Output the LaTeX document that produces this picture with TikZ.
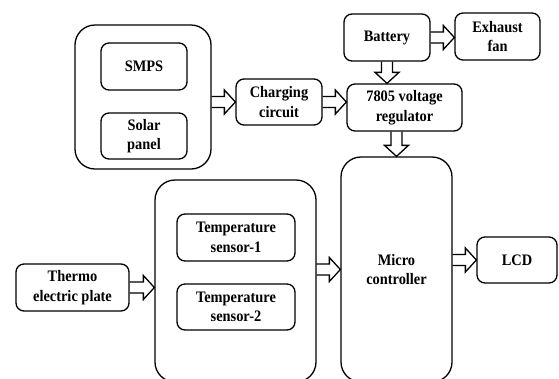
\documentclass[tikz,border=0pt]{standalone}
\usepackage{fontspec}
\setmainfont{Liberation Serif}[FakeStretch=0.9]
\usetikzlibrary{calc}

\begin{document}
\begin{tikzpicture}[x=1pt, y=-1pt,
    blk/.style={draw, line width=1.3pt, rounded corners=8pt, align=center, inner sep=1pt,
                font=\fontsize{16}{19.5}\selectfont\bfseries},
    grp/.style={draw, line width=1.3pt, rounded corners=20pt},
    fat/.style={draw, line width=1.3pt, line join=miter, to path={
        let \p1=(\tikztostart), \p2=(\tikztotarget),
            \n1={atan2(\y2-\y1,\x2-\x1)}, \n2={veclen(\x2-\x1,\y2-\y1)-11pt} in
        ($(\p1)+({\n1+90}:5.5pt)$) -- ++(\n1:\n2) -- ++({\n1+90}:6.5pt) -- (\p2)
        -- ($(\p1)+(\n1:\n2)+({\n1-90}:12pt)$) -- ++({\n1+90}:6.5pt)
        -- ($(\p1)+({\n1-90}:5.5pt)$)}}]
    \clip (0,0) rectangle (559,378);
    % Supply group (left top)
    \node[grp, minimum width=136pt, minimum height=144pt] (pwr) at (143,97) {};
    \node[blk, minimum width=86pt, minimum height=47pt] (smps) at (144,66.5) {SMPS};
    \node[blk, minimum width=86pt, minimum height=46pt] (solar) at (144,136) {Solar\\panel};
    % Charging and regulation chain
    \node[blk, minimum width=86pt, minimum height=46pt] (charge) at (279,102) {Charging\\circuit};
    \node[blk, minimum width=115pt, minimum height=47pt] (reg) at (404.5,107.5) {7805 voltage\\regulator};
    \node[blk, minimum width=86pt, minimum height=47pt] (batt) at (387,37.5) {Battery};
    \node[blk, minimum width=85pt, minimum height=47pt] (fan) at (497.5,36.5) {Exhaust\\fan};
    % Sensing group (left bottom)
    \node[grp, minimum width=161pt, minimum height=202pt] (sens) at (235.5,281) {};
    \node[blk, minimum width=118pt, minimum height=47pt] (ts1) at (236,237.5) {Temperature\\sensor-1};
    \node[blk, minimum width=118pt, minimum height=46pt] (ts2) at (236,307) {Temperature\\sensor-2};
    \node[blk, minimum width=113pt, minimum height=47pt] (thermo) at (72.5,287.5) {Thermo\\electric plate};
    % Controller and display
    \node[blk, rounded corners=20pt, minimum width=111pt, minimum height=225pt] (mcu) at (396.5,269.5) {Micro\\controller};
    \node[blk, minimum width=80pt, minimum height=46pt] (lcd) at (517,260) {LCD};
    % Block arrows
    \draw[fat] (pwr.east |- charge) to (charge.west);
    \draw[fat] (charge.east) to (charge.east -| reg.west);
    \draw[fat] (batt.south) to (batt.south |- reg.north);
    \draw[fat] (batt.east) to (batt.east -| fan.west);
    \draw[fat] (mcu.north |- reg.south) to (mcu.north);
    \draw[fat] (thermo.east) to (thermo.east -| sens.west);
    \draw[fat] (sens.east |- mcu) to (mcu.west);
    \draw[fat] (mcu.east |- lcd) to (lcd.west);
\end{tikzpicture}
\end{document}
